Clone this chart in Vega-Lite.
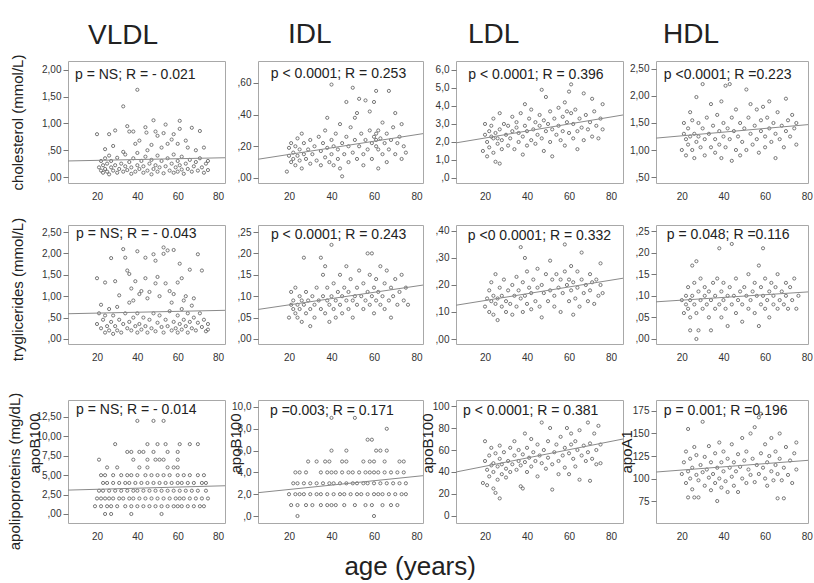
{
  "$schema": "https://vega.github.io/schema/vega-lite/v6.json",
  "background": "white",
  "padding": {"left": 7, "top": 20, "right": 0, "bottom": 2},
  "title": {"text": "age (years)", "orient": "bottom", "anchor": "middle", "fontSize": 26, "offset": 3},
  "columns": 4,
  "spacing": {"row": 14, "column": 33},
  "bounds": "flush",
  "align": "each",
  "datasets": {
    "A": [{"a":20,"v":0.8},{"a":26,"v":0.8},{"a":29,"v":0.87},{"a":33,"v":1.32},{"a":35,"v":0.95},{"a":36,"v":0.85},{"a":38,"v":0.85},{"a":40,"v":1.63},{"a":44,"v":0.93},{"a":44.5,"v":0.83},{"a":48,"v":1.06},{"a":49,"v":0.85},{"a":50,"v":0.77},{"a":53,"v":0.82},{"a":54,"v":0.98},{"a":58,"v":0.8},{"a":61,"v":1.05},{"a":61,"v":0.9},{"a":64,"v":0.68},{"a":57,"v":0.7},{"a":67,"v":0.92},{"a":71,"v":0.86},{"a":41,"v":0.68},{"a":47,"v":0.6},{"a":52,"v":0.55},{"a":60,"v":0.62},{"a":39,"v":0.62},{"a":28,"v":0.58},{"a":24,"v":0.52},{"a":33,"v":0.47},{"a":45,"v":0.5},{"a":55,"v":0.62},{"a":69,"v":0.5},{"a":73,"v":0.55},{"a":65,"v":0.55},
      {"a":21,"v":0.18},{"a":22,"v":0.3},{"a":22,"v":0.12},{"a":23,"v":0.22},{"a":23,"v":0.08},{"a":24,"v":0.35},{"a":24,"v":0.15},{"a":25,"v":0.1},{"a":25,"v":0.25},{"a":26,"v":0.4},{"a":26,"v":0.05},{"a":27,"v":0.18},{"a":27,"v":0.3},{"a":28,"v":0.12},{"a":29,"v":0.22},{"a":30,"v":0.08},{"a":30,"v":0.36},{"a":31,"v":0.15},{"a":32,"v":0.25},{"a":33,"v":0.1},{"a":34,"v":0.2},{"a":34,"v":0.42},{"a":35,"v":0.13},{"a":36,"v":0.28},{"a":37,"v":0.06},{"a":37,"v":0.18},{"a":38,"v":0.35},{"a":39,"v":0.1},{"a":40,"v":0.22},{"a":40,"v":0.45},{"a":41,"v":0.15},{"a":42,"v":0.3},{"a":43,"v":0.08},{"a":43,"v":0.2},{"a":44,"v":0.38},{"a":45,"v":0.12},{"a":46,"v":0.25},{"a":47,"v":0.05},{"a":47,"v":0.32},{"a":48,"v":0.15},{"a":49,"v":0.22},{"a":50,"v":0.4},{"a":50,"v":0.1},{"a":51,"v":0.18},{"a":52,"v":0.3},{"a":53,"v":0.07},{"a":54,"v":0.2},{"a":55,"v":0.35},{"a":56,"v":0.12},{"a":57,"v":0.25},{"a":58,"v":0.08},{"a":58,"v":0.42},{"a":59,"v":0.18},{"a":60,"v":0.3},{"a":60,"v":0.1},{"a":61,"v":0.22},{"a":62,"v":0.14},{"a":62,"v":0.38},{"a":63,"v":0.06},{"a":64,"v":0.25},{"a":65,"v":0.15},{"a":66,"v":0.32},{"a":67,"v":0.1},{"a":68,"v":0.2},{"a":69,"v":0.28},{"a":70,"v":0.12},{"a":71,"v":0.35},{"a":72,"v":0.18},{"a":73,"v":0.08},{"a":74,"v":0.25},{"a":75,"v":0.13},{"a":75,"v":0.3}],
    "B": [{"a":19,"v":0.04},{"a":20,"v":0.14},{"a":20,"v":0.19},{"a":21,"v":0.1},{"a":21,"v":0.22},{"a":22,"v":0.12},{"a":22,"v":0.16},{"a":23,"v":0.2},{"a":23,"v":0.08},{"a":24,"v":0.14},{"a":24,"v":0.25},{"a":25,"v":0.11},{"a":25,"v":0.18},{"a":26,"v":0.28},{"a":26,"v":0.06},{"a":27,"v":0.15},{"a":27,"v":0.22},{"a":28,"v":0.12},{"a":29,"v":0.18},{"a":30,"v":0.09},{"a":30,"v":0.24},{"a":31,"v":0.15},{"a":32,"v":0.2},{"a":33,"v":0.11},{"a":34,"v":0.26},{"a":35,"v":0.17},{"a":35,"v":0.08},{"a":36,"v":0.22},{"a":37,"v":0.3},{"a":37,"v":0.13},{"a":38,"v":0.19},{"a":38,"v":0.38},{"a":39,"v":0.1},{"a":40,"v":0.59},{"a":40,"v":0.24},{"a":40,"v":0.15},{"a":41,"v":0.08},{"a":41,"v":0.2},{"a":42,"v":0.28},{"a":43,"v":0.12},{"a":43,"v":0.18},{"a":44,"v":0.34},{"a":44,"v":0.06},{"a":45,"v":0.22},{"a":45,"v":0.01},{"a":46,"v":0.15},{"a":47,"v":0.26},{"a":47,"v":0.48},{"a":48,"v":0.1},{"a":48,"v":0.2},{"a":49,"v":0.32},{"a":50,"v":0.57},{"a":50,"v":0.16},{"a":51,"v":0.24},{"a":51,"v":0.38},{"a":52,"v":0.12},{"a":52,"v":0.41},{"a":53,"v":0.5},{"a":53,"v":0.2},{"a":54,"v":0.28},{"a":55,"v":0.15},{"a":55,"v":0.08},{"a":56,"v":0.24},{"a":56,"v":0.49},{"a":57,"v":0.18},{"a":58,"v":0.3},{"a":58,"v":0.42},{"a":59,"v":0.12},{"a":59,"v":0.22},{"a":60,"v":0.26},{"a":60,"v":0.48},{"a":61,"v":0.24},{"a":61,"v":0.2},{"a":61,"v":0.28},{"a":61,"v":0.55},{"a":62,"v":0.18},{"a":62,"v":0.3},{"a":62,"v":0.06},{"a":63,"v":0.25},{"a":64,"v":0.15},{"a":64,"v":0.35},{"a":65,"v":0.22},{"a":66,"v":0.1},{"a":66,"v":0.28},{"a":67,"v":0.55},{"a":67,"v":0.18},{"a":68,"v":0.24},{"a":69,"v":0.32},{"a":70,"v":0.41},{"a":70,"v":0.15},{"a":71,"v":0.22},{"a":72,"v":0.26},{"a":73,"v":0.34},{"a":73,"v":0.12},{"a":74,"v":0.2},{"a":75,"v":0.16}],
    "C": [{"a":19,"v":1.5},{"a":20,"v":2.4},{"a":20,"v":3.0},{"a":21,"v":1.2},{"a":21,"v":2.0},{"a":22,"v":2.6},{"a":22,"v":1.7},{"a":23,"v":2.3},{"a":23,"v":2.9},{"a":24,"v":1.4},{"a":24,"v":2.2},{"a":24,"v":3.3},{"a":25,"v":0.9},{"a":25,"v":2.5},{"a":26,"v":1.9},{"a":26,"v":2.2},{"a":27,"v":0.8},{"a":27,"v":2.7},{"a":27,"v":3.6},{"a":28,"v":2.1},{"a":28,"v":1.6},{"a":29,"v":3.0},{"a":30,"v":2.4},{"a":31,"v":1.8},{"a":31,"v":2.9},{"a":32,"v":2.2},{"a":33,"v":3.4},{"a":33,"v":2.6},{"a":34,"v":1.6},{"a":35,"v":2.8},{"a":35,"v":3.1},{"a":36,"v":2.0},{"a":36,"v":2.5},{"a":37,"v":3.6},{"a":38,"v":1.3},{"a":38,"v":2.3},{"a":39,"v":4.1},{"a":39,"v":2.9},{"a":40,"v":1.8},{"a":40,"v":2.6},{"a":41,"v":3.3},{"a":42,"v":2.1},{"a":42,"v":3.8},{"a":43,"v":2.7},{"a":44,"v":1.9},{"a":44,"v":3.1},{"a":45,"v":2.4},{"a":46,"v":3.5},{"a":46,"v":2.9},{"a":47,"v":4.9},{"a":47,"v":2.2},{"a":48,"v":3.2},{"a":48,"v":1.5},{"a":49,"v":4.5},{"a":49,"v":2.6},{"a":50,"v":3.0},{"a":51,"v":2.0},{"a":51,"v":3.7},{"a":52,"v":2.7},{"a":52,"v":1.2},{"a":53,"v":3.3},{"a":54,"v":2.4},{"a":55,"v":3.9},{"a":55,"v":2.9},{"a":56,"v":2.1},{"a":57,"v":3.4},{"a":57,"v":2.6},{"a":58,"v":4.2},{"a":58,"v":1.8},{"a":59,"v":3.1},{"a":59,"v":3.7},{"a":60,"v":4.8},{"a":60,"v":2.5},{"a":61,"v":5.2},{"a":61,"v":3.6},{"a":62,"v":3.0},{"a":62,"v":2.2},{"a":63,"v":3.8},{"a":64,"v":2.6},{"a":64,"v":1.6},{"a":65,"v":3.3},{"a":66,"v":2.8},{"a":67,"v":4.7},{"a":67,"v":2.1},{"a":68,"v":3.5},{"a":69,"v":2.7},{"a":70,"v":3.1},{"a":71,"v":4.4},{"a":71,"v":2.3},{"a":72,"v":3.7},{"a":73,"v":2.9},{"a":74,"v":2.2},{"a":75,"v":3.3},{"a":76,"v":4.1},{"a":76,"v":2.7}],
    "D": [{"a":20,"v":1.0},{"a":21,"v":1.3},{"a":21,"v":1.5},{"a":22,"v":1.2},{"a":22,"v":0.9},{"a":23,"v":1.4},{"a":23,"v":1.1},{"a":24,"v":1.7},{"a":24,"v":1.25},{"a":25,"v":1.0},{"a":25,"v":1.55},{"a":26,"v":1.3},{"a":26,"v":0.85},{"a":27,"v":1.98},{"a":27,"v":1.15},{"a":28,"v":1.5},{"a":28,"v":1.25},{"a":29,"v":1.05},{"a":30,"v":2.22},{"a":30,"v":1.4},{"a":31,"v":1.2},{"a":31,"v":0.9},{"a":32,"v":1.6},{"a":33,"v":1.3},{"a":34,"v":1.05},{"a":34,"v":1.85},{"a":35,"v":1.45},{"a":36,"v":1.2},{"a":36,"v":0.95},{"a":37,"v":1.65},{"a":38,"v":1.35},{"a":38,"v":1.1},{"a":39,"v":1.9},{"a":39,"v":0.85},{"a":40,"v":1.5},{"a":40,"v":1.25},{"a":41,"v":2.19},{"a":41,"v":1.05},{"a":42,"v":1.4},{"a":43,"v":2.22},{"a":43,"v":1.2},{"a":44,"v":0.8},{"a":44,"v":1.6},{"a":45,"v":1.35},{"a":46,"v":1.0},{"a":46,"v":1.75},{"a":47,"v":1.25},{"a":48,"v":1.5},{"a":48,"v":0.9},{"a":49,"v":1.15},{"a":50,"v":1.4},{"a":51,"v":2.12},{"a":51,"v":1.0},{"a":52,"v":1.6},{"a":53,"v":1.3},{"a":53,"v":1.85},{"a":54,"v":1.1},{"a":55,"v":1.45},{"a":56,"v":1.75},{"a":56,"v":1.2},{"a":57,"v":0.95},{"a":58,"v":1.55},{"a":58,"v":1.35},{"a":59,"v":1.8},{"a":60,"v":1.25},{"a":60,"v":1.05},{"a":61,"v":1.6},{"a":62,"v":1.4},{"a":62,"v":1.9},{"a":63,"v":1.15},{"a":64,"v":1.5},{"a":65,"v":1.3},{"a":65,"v":0.85},{"a":66,"v":1.7},{"a":67,"v":1.2},{"a":68,"v":1.45},{"a":69,"v":1.05},{"a":70,"v":1.95},{"a":70,"v":1.35},{"a":71,"v":1.55},{"a":72,"v":1.25},{"a":73,"v":1.65},{"a":74,"v":1.4},{"a":75,"v":1.1},{"a":75,"v":1.5}],
    "E": [{"a":20,"v":1.42},{"a":24,"v":1.32},{"a":27,"v":1.89},{"a":29,"v":1.35},{"a":33,"v":2.1},{"a":34,"v":1.9},{"a":35,"v":1.6},{"a":36,"v":1.52},{"a":37,"v":1.18},{"a":39,"v":1.35},{"a":40,"v":2.05},{"a":41,"v":1.05},{"a":42,"v":1.12},{"a":44,"v":1.9},{"a":44,"v":1.42},{"a":46,"v":1.1},{"a":48,"v":1.98},{"a":49,"v":1.83},{"a":49,"v":1.3},{"a":50,"v":1.45},{"a":51,"v":1.0},{"a":53,"v":2.14},{"a":53,"v":1.99},{"a":55,"v":2.07},{"a":54,"v":1.3},{"a":56,"v":1.12},{"a":58,"v":2.08},{"a":58,"v":1.05},{"a":60,"v":1.32},{"a":61,"v":1.76},{"a":62,"v":1.42},{"a":64,"v":1.0},{"a":66,"v":1.62},{"a":70,"v":1.98},{"a":72,"v":1.6},{"a":45,"v":0.95},{"a":38,"v":0.9},{"a":31,"v":1.02},{"a":63,"v":0.9},{"a":68,"v":0.95},{"a":57,"v":0.85},
      {"a":20,"v":0.35},{"a":21,"v":0.6},{"a":22,"v":0.25},{"a":22,"v":0.8},{"a":23,"v":0.45},{"a":24,"v":0.15},{"a":24,"v":0.55},{"a":25,"v":0.3},{"a":26,"v":0.7},{"a":26,"v":0.2},{"a":27,"v":0.4},{"a":28,"v":0.12},{"a":28,"v":0.55},{"a":29,"v":0.3},{"a":30,"v":0.2},{"a":30,"v":0.75},{"a":31,"v":0.45},{"a":32,"v":0.15},{"a":33,"v":0.35},{"a":34,"v":0.6},{"a":35,"v":0.25},{"a":36,"v":0.4},{"a":36,"v":0.85},{"a":37,"v":0.2},{"a":38,"v":0.5},{"a":39,"v":0.3},{"a":40,"v":0.15},{"a":40,"v":0.6},{"a":41,"v":0.35},{"a":42,"v":0.22},{"a":43,"v":0.5},{"a":44,"v":0.3},{"a":45,"v":0.15},{"a":46,"v":0.45},{"a":47,"v":0.25},{"a":48,"v":0.6},{"a":49,"v":0.18},{"a":50,"v":0.38},{"a":51,"v":0.55},{"a":52,"v":0.28},{"a":53,"v":0.15},{"a":54,"v":0.45},{"a":55,"v":0.3},{"a":56,"v":0.65},{"a":57,"v":0.2},{"a":58,"v":0.4},{"a":59,"v":0.25},{"a":60,"v":0.55},{"a":60,"v":0.15},{"a":61,"v":0.35},{"a":62,"v":0.7},{"a":62,"v":0.22},{"a":63,"v":0.45},{"a":64,"v":0.3},{"a":65,"v":0.6},{"a":65,"v":0.15},{"a":66,"v":0.4},{"a":67,"v":0.78},{"a":67,"v":0.25},{"a":68,"v":0.5},{"a":69,"v":0.2},{"a":70,"v":0.38},{"a":71,"v":0.6},{"a":72,"v":0.28},{"a":73,"v":0.45},{"a":74,"v":0.18},{"a":75,"v":0.35},{"a":75,"v":0.22}],
    "F": [{"a":20,"v":0.05},{"a":21,"v":0.08},{"a":21,"v":0.11},{"a":22,"v":0.07},{"a":22,"v":0.09},{"a":23,"v":0.06},{"a":23,"v":0.12},{"a":24,"v":0.08},{"a":24,"v":0.05},{"a":25,"v":0.1},{"a":25,"v":0.07},{"a":26,"v":0.09},{"a":26,"v":0.04},{"a":27,"v":0.19},{"a":27,"v":0.08},{"a":28,"v":0.06},{"a":28,"v":0.11},{"a":29,"v":0.09},{"a":30,"v":0.03},{"a":30,"v":0.07},{"a":31,"v":0.1},{"a":32,"v":0.08},{"a":32,"v":0.05},{"a":33,"v":0.12},{"a":34,"v":0.09},{"a":35,"v":0.07},{"a":35,"v":0.19},{"a":36,"v":0.15},{"a":36,"v":0.1},{"a":37,"v":0.06},{"a":37,"v":0.17},{"a":38,"v":0.09},{"a":38,"v":0.12},{"a":39,"v":0.04},{"a":39,"v":0.08},{"a":40,"v":0.22},{"a":40,"v":0.1},{"a":41,"v":0.07},{"a":41,"v":0.13},{"a":42,"v":0.09},{"a":42,"v":0.05},{"a":43,"v":0.11},{"a":44,"v":0.08},{"a":44,"v":0.15},{"a":45,"v":0.1},{"a":45,"v":0.06},{"a":46,"v":0.12},{"a":47,"v":0.09},{"a":47,"v":0.17},{"a":48,"v":0.07},{"a":48,"v":0.11},{"a":49,"v":0.14},{"a":50,"v":0.09},{"a":50,"v":0.05},{"a":51,"v":0.1},{"a":52,"v":0.12},{"a":52,"v":0.08},{"a":53,"v":0.16},{"a":54,"v":0.1},{"a":55,"v":0.07},{"a":55,"v":0.13},{"a":56,"v":0.09},{"a":57,"v":0.2},{"a":57,"v":0.11},{"a":58,"v":0.08},{"a":58,"v":0.15},{"a":59,"v":0.2},{"a":59,"v":0.1},{"a":60,"v":0.12},{"a":60,"v":0.06},{"a":61,"v":0.09},{"a":61,"v":0.14},{"a":62,"v":0.11},{"a":63,"v":0.08},{"a":63,"v":0.17},{"a":64,"v":0.1},{"a":65,"v":0.13},{"a":65,"v":0.07},{"a":66,"v":0.16},{"a":67,"v":0.09},{"a":68,"v":0.12},{"a":68,"v":0.05},{"a":69,"v":0.1},{"a":70,"v":0.14},{"a":71,"v":0.08},{"a":72,"v":0.11},{"a":73,"v":0.15},{"a":74,"v":0.09},{"a":75,"v":0.12},{"a":76,"v":0.08}],
    "G": [{"a":20,"v":0.12},{"a":21,"v":0.15},{"a":22,"v":0.1},{"a":22,"v":0.18},{"a":23,"v":0.14},{"a":23,"v":0.21},{"a":24,"v":0.09},{"a":24,"v":0.16},{"a":25,"v":0.13},{"a":25,"v":0.24},{"a":26,"v":0.07},{"a":26,"v":0.15},{"a":27,"v":0.19},{"a":28,"v":0.12},{"a":28,"v":0.16},{"a":29,"v":0.22},{"a":30,"v":0.1},{"a":30,"v":0.14},{"a":31,"v":0.18},{"a":32,"v":0.13},{"a":33,"v":0.2},{"a":33,"v":0.09},{"a":34,"v":0.16},{"a":35,"v":0.23},{"a":35,"v":0.12},{"a":36,"v":0.18},{"a":37,"v":0.15},{"a":37,"v":0.34},{"a":38,"v":0.1},{"a":38,"v":0.21},{"a":39,"v":0.3},{"a":39,"v":0.16},{"a":40,"v":0.13},{"a":40,"v":0.25},{"a":41,"v":0.19},{"a":42,"v":0.11},{"a":42,"v":0.17},{"a":43,"v":0.22},{"a":44,"v":0.14},{"a":45,"v":0.26},{"a":45,"v":0.19},{"a":46,"v":0.12},{"a":47,"v":0.08},{"a":47,"v":0.2},{"a":48,"v":0.17},{"a":49,"v":0.24},{"a":50,"v":0.14},{"a":51,"v":0.29},{"a":51,"v":0.18},{"a":52,"v":0.22},{"a":53,"v":0.12},{"a":53,"v":0.16},{"a":54,"v":0.24},{"a":55,"v":0.19},{"a":56,"v":0.1},{"a":56,"v":0.22},{"a":57,"v":0.17},{"a":58,"v":0.35},{"a":58,"v":0.25},{"a":59,"v":0.2},{"a":60,"v":0.14},{"a":60,"v":0.22},{"a":61,"v":0.27},{"a":61,"v":0.18},{"a":62,"v":0.09},{"a":62,"v":0.21},{"a":63,"v":0.15},{"a":64,"v":0.25},{"a":64,"v":0.19},{"a":65,"v":0.12},{"a":66,"v":0.22},{"a":66,"v":0.32},{"a":67,"v":0.17},{"a":68,"v":0.2},{"a":69,"v":0.14},{"a":70,"v":0.24},{"a":70,"v":0.18},{"a":71,"v":0.21},{"a":72,"v":0.13},{"a":73,"v":0.22},{"a":74,"v":0.16},{"a":75,"v":0.28},{"a":75,"v":0.2},{"a":76,"v":0.17}],
    "H": [{"a":20,"v":0.09},{"a":21,"v":0.06},{"a":22,"v":0.1},{"a":22,"v":0.08},{"a":23,"v":0.07},{"a":23,"v":0.12},{"a":24,"v":0.09},{"a":24,"v":0.05},{"a":24,"v":0.02},{"a":25,"v":0.17},{"a":25,"v":0.1},{"a":26,"v":0.08},{"a":26,"v":0.13},{"a":27,"v":0.18},{"a":27,"v":0.06},{"a":27,"v":0.0},{"a":28,"v":0.11},{"a":28,"v":0.02},{"a":29,"v":0.09},{"a":29,"v":0.14},{"a":30,"v":0.07},{"a":31,"v":0.1},{"a":31,"v":0.12},{"a":32,"v":0.08},{"a":33,"v":0.05},{"a":33,"v":0.11},{"a":34,"v":0.02},{"a":34,"v":0.09},{"a":35,"v":0.13},{"a":36,"v":0.07},{"a":36,"v":0.1},{"a":37,"v":0.14},{"a":38,"v":0.21},{"a":38,"v":0.08},{"a":39,"v":0.11},{"a":39,"v":0.05},{"a":40,"v":0.09},{"a":40,"v":0.13},{"a":41,"v":0.07},{"a":42,"v":0.03},{"a":42,"v":0.1},{"a":43,"v":0.12},{"a":44,"v":0.22},{"a":44,"v":0.08},{"a":45,"v":0.1},{"a":46,"v":0.06},{"a":46,"v":0.14},{"a":47,"v":0.09},{"a":48,"v":0.11},{"a":49,"v":0.04},{"a":49,"v":0.08},{"a":50,"v":0.12},{"a":51,"v":0.1},{"a":52,"v":0.07},{"a":52,"v":0.15},{"a":53,"v":0.09},{"a":54,"v":0.11},{"a":55,"v":0.06},{"a":55,"v":0.13},{"a":56,"v":0.1},{"a":57,"v":0.03},{"a":57,"v":0.17},{"a":58,"v":0.08},{"a":58,"v":0.12},{"a":59,"v":0.21},{"a":59,"v":0.1},{"a":60,"v":0.07},{"a":60,"v":0.14},{"a":61,"v":0.09},{"a":62,"v":0.11},{"a":62,"v":0.05},{"a":63,"v":0.13},{"a":64,"v":0.08},{"a":64,"v":0.1},{"a":65,"v":0.12},{"a":66,"v":0.07},{"a":66,"v":0.15},{"a":67,"v":0.09},{"a":68,"v":0.11},{"a":69,"v":0.08},{"a":70,"v":0.13},{"a":70,"v":0.1},{"a":71,"v":0.07},{"a":72,"v":0.12},{"a":73,"v":0.09},{"a":74,"v":0.14},{"a":75,"v":0.07},{"a":76,"v":0.1}],
    "I": [{"a":40,"v":12},{"a":48,"v":12},{"a":53,"v":12},
      {"a":29,"v":9},{"a":45,"v":9},{"a":50,"v":9},{"a":54,"v":9},{"a":61,"v":9},{"a":66,"v":9},{"a":70,"v":9},
      {"a":35,"v":8},{"a":37,"v":8},{"a":41,"v":8},{"a":43,"v":8},{"a":48,"v":8},{"a":55,"v":8},{"a":60,"v":8},
      {"a":21,"v":7},{"a":38,"v":7},{"a":45,"v":7},{"a":49,"v":7},{"a":51,"v":7},{"a":53,"v":7},{"a":60,"v":7},
      {"a":25,"v":6},{"a":30,"v":6},{"a":41,"v":6},{"a":45,"v":6},{"a":55,"v":6},{"a":58,"v":6},{"a":60,"v":6},
      {"a":22,"v":5},{"a":24,"v":5},{"a":28,"v":5},{"a":32,"v":5},{"a":35,"v":5},{"a":37,"v":5},{"a":40,"v":5},{"a":44,"v":5},{"a":47,"v":5},{"a":50,"v":5},{"a":53,"v":5},{"a":56,"v":5},{"a":60,"v":5},{"a":63,"v":5},{"a":66,"v":5},{"a":70,"v":5},{"a":73,"v":5},
      {"a":23,"v":4},{"a":25,"v":4},{"a":28,"v":4},{"a":31,"v":4},{"a":34,"v":4},{"a":36,"v":4},{"a":39,"v":4},{"a":42,"v":4},{"a":45,"v":4},{"a":48,"v":4},{"a":51,"v":4},{"a":54,"v":4},{"a":57,"v":4},{"a":60,"v":4},{"a":62,"v":4},{"a":65,"v":4},{"a":68,"v":4},{"a":72,"v":4},{"a":74,"v":4},
      {"a":21,"v":3},{"a":23,"v":3},{"a":26,"v":3},{"a":29,"v":3},{"a":32,"v":3},{"a":35,"v":3},{"a":38,"v":3},{"a":40,"v":3},{"a":43,"v":3},{"a":46,"v":3},{"a":49,"v":3},{"a":52,"v":3},{"a":55,"v":3},{"a":58,"v":3},{"a":61,"v":3},{"a":64,"v":3},{"a":67,"v":3},{"a":70,"v":3},{"a":74,"v":3},
      {"a":20,"v":2},{"a":22,"v":2},{"a":24,"v":2},{"a":26,"v":2},{"a":28,"v":2},{"a":31,"v":2},{"a":33,"v":2},{"a":36,"v":2},{"a":38,"v":2},{"a":41,"v":2},{"a":44,"v":2},{"a":47,"v":2},{"a":50,"v":2},{"a":53,"v":2},{"a":56,"v":2},{"a":59,"v":2},{"a":61,"v":2},{"a":63,"v":2},{"a":66,"v":2},{"a":69,"v":2},{"a":72,"v":2},{"a":75,"v":2},
      {"a":19,"v":1},{"a":22,"v":1},{"a":25,"v":1},{"a":27,"v":1},{"a":30,"v":1},{"a":34,"v":1},{"a":37,"v":1},{"a":40,"v":1},{"a":43,"v":1},{"a":46,"v":1},{"a":49,"v":1},{"a":52,"v":1},{"a":55,"v":1},{"a":58,"v":1},{"a":60,"v":1},{"a":62,"v":1},{"a":65,"v":1},{"a":68,"v":1},{"a":71,"v":1},{"a":73,"v":1},
      {"a":24,"v":0},{"a":27,"v":0},{"a":37,"v":0},{"a":52,"v":0}],
    "J": [{"a":40,"v":9},{"a":51,"v":9},{"a":66,"v":8},{"a":57,"v":7},{"a":59,"v":7},
      {"a":40,"v":6},{"a":47,"v":6},{"a":61,"v":6},{"a":63,"v":6},{"a":66,"v":6},
      {"a":29,"v":5},{"a":33,"v":5},{"a":37,"v":5},{"a":39,"v":5},{"a":45,"v":5},{"a":47,"v":5},{"a":55,"v":5},{"a":58,"v":5},{"a":60,"v":5},{"a":65,"v":5},{"a":72,"v":5},{"a":74,"v":5},
      {"a":23,"v":4},{"a":25,"v":4},{"a":28,"v":4},{"a":35,"v":4},{"a":38,"v":4},{"a":40,"v":4},{"a":42,"v":4},{"a":45,"v":4},{"a":48,"v":4},{"a":50,"v":4},{"a":53,"v":4},{"a":56,"v":4},{"a":58,"v":4},{"a":60,"v":4},{"a":62,"v":4},{"a":65,"v":4},{"a":68,"v":4},{"a":71,"v":4},{"a":74,"v":4},
      {"a":22,"v":3},{"a":24,"v":3},{"a":27,"v":3},{"a":30,"v":3},{"a":33,"v":3},{"a":36,"v":3},{"a":39,"v":3},{"a":41,"v":3},{"a":44,"v":3},{"a":47,"v":3},{"a":50,"v":3},{"a":52,"v":3},{"a":55,"v":3},{"a":57,"v":3},{"a":60,"v":3},{"a":63,"v":3},{"a":66,"v":3},{"a":69,"v":3},{"a":72,"v":3},{"a":75,"v":3},
      {"a":20,"v":2},{"a":23,"v":2},{"a":25,"v":2},{"a":27,"v":2},{"a":30,"v":2},{"a":33,"v":2},{"a":35,"v":2},{"a":38,"v":2},{"a":41,"v":2},{"a":44,"v":2},{"a":46,"v":2},{"a":49,"v":2},{"a":52,"v":2},{"a":54,"v":2},{"a":57,"v":2},{"a":60,"v":2},{"a":62,"v":2},{"a":64,"v":2},{"a":67,"v":2},{"a":70,"v":2},{"a":73,"v":2},{"a":75,"v":2},
      {"a":21,"v":1},{"a":24,"v":1},{"a":28,"v":1},{"a":31,"v":1},{"a":35,"v":1},{"a":38,"v":1},{"a":40,"v":1},{"a":42,"v":1},{"a":46,"v":1},{"a":51,"v":1},{"a":56,"v":1},{"a":59,"v":1},{"a":64,"v":1},{"a":68,"v":1},{"a":71,"v":1},
      {"a":24,"v":0},{"a":60,"v":0}],
    "K": [{"a":19,"v":30},{"a":20,"v":50},{"a":20,"v":68},{"a":21,"v":28},{"a":21,"v":42},{"a":22,"v":55},{"a":22,"v":36},{"a":23,"v":46},{"a":23,"v":62},{"a":24,"v":25},{"a":24,"v":48},{"a":24,"v":40},{"a":25,"v":21},{"a":25,"v":57},{"a":26,"v":33},{"a":26,"v":45},{"a":27,"v":16},{"a":27,"v":52},{"a":27,"v":64},{"a":28,"v":38},{"a":28,"v":47},{"a":29,"v":58},{"a":30,"v":43},{"a":30,"v":35},{"a":31,"v":50},{"a":32,"v":62},{"a":32,"v":40},{"a":33,"v":47},{"a":34,"v":55},{"a":34,"v":68},{"a":35,"v":42},{"a":36,"v":50},{"a":36,"v":60},{"a":37,"v":27},{"a":37,"v":46},{"a":38,"v":25},{"a":38,"v":56},{"a":39,"v":75},{"a":39,"v":49},{"a":40,"v":62},{"a":40,"v":40},{"a":41,"v":53},{"a":42,"v":70},{"a":42,"v":45},{"a":43,"v":58},{"a":44,"v":50},{"a":45,"v":65},{"a":45,"v":36},{"a":46,"v":55},{"a":47,"v":85},{"a":47,"v":48},{"a":48,"v":60},{"a":49,"v":43},{"a":50,"v":68},{"a":50,"v":53},{"a":51,"v":80},{"a":52,"v":47},{"a":52,"v":24},{"a":53,"v":58},{"a":54,"v":65},{"a":55,"v":50},{"a":55,"v":38},{"a":56,"v":72},{"a":57,"v":55},{"a":58,"v":62},{"a":58,"v":44},{"a":59,"v":80},{"a":60,"v":57},{"a":60,"v":38},{"a":61,"v":75},{"a":61,"v":65},{"a":62,"v":52},{"a":63,"v":68},{"a":63,"v":45},{"a":64,"v":60},{"a":65,"v":78},{"a":65,"v":33},{"a":66,"v":55},{"a":67,"v":64},{"a":68,"v":50},{"a":69,"v":85},{"a":69,"v":58},{"a":70,"v":32},{"a":70,"v":66},{"a":71,"v":52},{"a":72,"v":75},{"a":73,"v":60},{"a":73,"v":47},{"a":74,"v":82},{"a":75,"v":65},{"a":75,"v":48}],
    "L": [{"a":20,"v":105},{"a":21,"v":118},{"a":22,"v":95},{"a":22,"v":130},{"a":23,"v":155},{"a":23,"v":108},{"a":23,"v":79},{"a":24,"v":100},{"a":24,"v":122},{"a":25,"v":112},{"a":25,"v":88},{"a":26,"v":135},{"a":26,"v":79},{"a":27,"v":104},{"a":27,"v":126},{"a":28,"v":79},{"a":28,"v":98},{"a":29,"v":115},{"a":30,"v":163},{"a":30,"v":107},{"a":31,"v":92},{"a":31,"v":124},{"a":32,"v":110},{"a":33,"v":101},{"a":33,"v":136},{"a":34,"v":87},{"a":34,"v":118},{"a":35,"v":105},{"a":36,"v":128},{"a":36,"v":95},{"a":37,"v":75},{"a":37,"v":112},{"a":38,"v":140},{"a":38,"v":100},{"a":39,"v":118},{"a":39,"v":90},{"a":40,"v":108},{"a":40,"v":130},{"a":41,"v":97},{"a":42,"v":122},{"a":42,"v":85},{"a":43,"v":112},{"a":44,"v":102},{"a":44,"v":138},{"a":45,"v":92},{"a":45,"v":118},{"a":46,"v":108},{"a":47,"v":127},{"a":47,"v":85},{"a":48,"v":113},{"a":49,"v":100},{"a":49,"v":145},{"a":50,"v":120},{"a":51,"v":95},{"a":51,"v":130},{"a":52,"v":110},{"a":53,"v":150},{"a":53,"v":104},{"a":54,"v":122},{"a":55,"v":157},{"a":55,"v":96},{"a":56,"v":115},{"a":57,"v":168},{"a":57,"v":105},{"a":58,"v":172},{"a":58,"v":128},{"a":59,"v":112},{"a":60,"v":100},{"a":60,"v":138},{"a":61,"v":118},{"a":61,"v":92},{"a":62,"v":125},{"a":63,"v":108},{"a":63,"v":145},{"a":64,"v":98},{"a":65,"v":130},{"a":65,"v":115},{"a":66,"v":78},{"a":66,"v":105},{"a":67,"v":150},{"a":67,"v":122},{"a":68,"v":98},{"a":69,"v":78},{"a":69,"v":112},{"a":70,"v":135},{"a":71,"v":104},{"a":72,"v":120},{"a":73,"v":95},{"a":74,"v":128},{"a":75,"v":110},{"a":75,"v":140}]
  },
  "concat": [
    {"width": 157, "height": 122,
     "title": {"text": "VLDL", "anchor": "start", "frame": "group", "dx": 20, "fontSize": 28, "offset": 4},
     "layer": [
      {"data": {"name": "A"}, "mark": "point",
       "encoding": {
        "x": {"field": "a", "type": "quantitative", "title": null, "scale": {"domain": [5.62, 83.45], "nice": false}, "axis": {"values": [20, 40, 60, 80]}},
        "y": {"field": "v", "type": "quantitative", "scale": {"domain": [-0.112, 2.168], "nice": false},
              "axis": {"values": [0, 0.5, 1, 1.5, 2], "labelExpr": "datum.value < 1 ? replace(format(datum.value, '.2f'), '0.', ',') : replace(format(datum.value, '.2f'), '.', ',')",
                       "title": "cholesterol (mmol/L)", "titleX": -43, "titleY": 61, "titleAlign": "center", "titleBaseline": "bottom", "titleAngle": -90}}}},
      {"data": {"values": [{"a": 5.62, "v": 0.30}, {"a": 83.45, "v": 0.36}]}, "mark": "line",
       "encoding": {
        "x": {"field": "a", "type": "quantitative", "title": null, "axis": {"values": [20, 40, 60, 80]}},
        "y": {"field": "v", "type": "quantitative",
              "axis": {"values": [0, 0.5, 1, 1.5, 2], "labelExpr": "datum.value < 1 ? replace(format(datum.value, '.2f'), '0.', ',') : replace(format(datum.value, '.2f'), '.', ',')",
                       "title": "cholesterol (mmol/L)", "titleX": -43, "titleY": 61, "titleAlign": "center", "titleBaseline": "bottom", "titleAngle": -90}}}},
      {"data": {"values": [{"t": "p = NS; R = - 0.021"}]}, "mark": "text",
       "encoding": {"text": {"field": "t"},
        "x": {"datum": 9.1, "type": "quantitative", "title": null, "axis": {"values": [20, 40, 60, 80]}},
        "y": {"datum": 1.83, "type": "quantitative",
              "axis": {"values": [0, 0.5, 1, 1.5, 2], "labelExpr": "datum.value < 1 ? replace(format(datum.value, '.2f'), '0.', ',') : replace(format(datum.value, '.2f'), '.', ',')",
                       "title": "cholesterol (mmol/L)", "titleX": -43, "titleY": 61, "titleAlign": "center", "titleBaseline": "bottom", "titleAngle": -90}}}}
     ]},
    {"width": 165, "height": 122,
     "title": {"text": "IDL", "anchor": "start", "frame": "group", "dx": 30, "fontSize": 28, "offset": 12},
     "layer": [
      {"data": {"name": "B"}, "mark": "point",
       "encoding": {
        "x": {"field": "a", "type": "quantitative", "title": null, "scale": {"domain": [5.41, 83.06], "nice": false}, "axis": {"values": [20, 40, 60, 80]}},
        "y": {"field": "v", "type": "quantitative", "title": null, "scale": {"domain": [-0.032, 0.739], "nice": false},
              "axis": {"values": [0, 0.2, 0.4, 0.6], "labelExpr": "datum.value < 1 ? replace(format(datum.value, '.2f'), '0.', ',') : replace(format(datum.value, '.2f'), '.', ',')"}}}},
      {"data": {"values": [{"a": 5.41, "v": 0.118}, {"a": 83.06, "v": 0.28}]}, "mark": "line",
       "encoding": {
        "x": {"field": "a", "type": "quantitative", "title": null, "axis": {"values": [20, 40, 60, 80]}},
        "y": {"field": "v", "type": "quantitative", "title": null,
              "axis": {"values": [0, 0.2, 0.4, 0.6], "labelExpr": "datum.value < 1 ? replace(format(datum.value, '.2f'), '0.', ',') : replace(format(datum.value, '.2f'), '.', ',')"}}}},
      {"data": {"values": [{"t": "p < 0.0001; R = 0.253"}]}, "mark": "text",
       "encoding": {"text": {"field": "t"},
        "x": {"datum": 11.4, "type": "quantitative", "title": null, "axis": {"values": [20, 40, 60, 80]}},
        "y": {"datum": 0.63, "type": "quantitative", "title": null,
              "axis": {"values": [0, 0.2, 0.4, 0.6], "labelExpr": "datum.value < 1 ? replace(format(datum.value, '.2f'), '0.', ',') : replace(format(datum.value, '.2f'), '.', ',')"}}}}
     ]},
    {"width": 167, "height": 122,
     "title": {"text": "LDL", "anchor": "start", "frame": "group", "dx": 12, "fontSize": 28, "offset": 12},
     "layer": [
      {"data": {"name": "C"}, "mark": "point",
       "encoding": {
        "x": {"field": "a", "type": "quantitative", "title": null, "scale": {"domain": [6.19, 85.7], "nice": false}, "axis": {"values": [20, 40, 60, 80]}},
        "y": {"field": "v", "type": "quantitative", "title": null, "scale": {"domain": [-0.28, 6.5], "nice": false},
              "axis": {"values": [0, 1, 2, 3, 4, 5, 6], "labelExpr": "datum.value < 1 ? replace(format(datum.value, '.1f'), '0.', ',') : replace(format(datum.value, '.1f'), '.', ',')"}}}},
      {"data": {"values": [{"a": 6.19, "v": 1.95}, {"a": 85.7, "v": 3.5}]}, "mark": "line",
       "encoding": {
        "x": {"field": "a", "type": "quantitative", "title": null, "axis": {"values": [20, 40, 60, 80]}},
        "y": {"field": "v", "type": "quantitative", "title": null,
              "axis": {"values": [0, 1, 2, 3, 4, 5, 6], "labelExpr": "datum.value < 1 ? replace(format(datum.value, '.1f'), '0.', ',') : replace(format(datum.value, '.1f'), '.', ',')"}}}},
      {"data": {"values": [{"t": "p < 0.0001; R = 0.396"}]}, "mark": "text",
       "encoding": {"text": {"field": "t"},
        "x": {"datum": 12.0, "type": "quantitative", "title": null, "axis": {"values": [20, 40, 60, 80]}},
        "y": {"datum": 5.48, "type": "quantitative", "title": null,
              "axis": {"values": [0, 1, 2, 3, 4, 5, 6], "labelExpr": "datum.value < 1 ? replace(format(datum.value, '.1f'), '0.', ',') : replace(format(datum.value, '.1f'), '.', ',')"}}}}
     ]},
    {"width": 152, "height": 122,
     "title": {"text": "HDL", "anchor": "start", "frame": "group", "dx": 7, "fontSize": 28, "offset": 12},
     "layer": [
      {"data": {"name": "D"}, "mark": "point",
       "encoding": {
        "x": {"field": "a", "type": "quantitative", "title": null, "scale": {"domain": [7.6, 80.6], "nice": false}, "axis": {"values": [20, 40, 60, 80]}},
        "y": {"field": "v", "type": "quantitative", "title": null, "scale": {"domain": [0.389, 2.648], "nice": false},
              "axis": {"values": [0.5, 1, 1.5, 2, 2.5], "labelExpr": "datum.value < 1 ? replace(format(datum.value, '.2f'), '0.', ',') : replace(format(datum.value, '.2f'), '.', ',')"}}}},
      {"data": {"values": [{"a": 7.6, "v": 1.22}, {"a": 80.6, "v": 1.47}]}, "mark": "line",
       "encoding": {
        "x": {"field": "a", "type": "quantitative", "title": null, "axis": {"values": [20, 40, 60, 80]}},
        "y": {"field": "v", "type": "quantitative", "title": null,
              "axis": {"values": [0.5, 1, 1.5, 2, 2.5], "labelExpr": "datum.value < 1 ? replace(format(datum.value, '.2f'), '0.', ',') : replace(format(datum.value, '.2f'), '.', ',')"}}}},
      {"data": {"values": [{"t": "p <0.0001; R =0.223"}]}, "mark": "text",
       "encoding": {"text": {"field": "t"},
        "x": {"datum": 11.35, "type": "quantitative", "title": null, "axis": {"values": [20, 40, 60, 80]}},
        "y": {"datum": 2.31, "type": "quantitative", "title": null,
              "axis": {"values": [0.5, 1, 1.5, 2, 2.5], "labelExpr": "datum.value < 1 ? replace(format(datum.value, '.2f'), '0.', ',') : replace(format(datum.value, '.2f'), '.', ',')"}}}}
     ]},
    {"width": 10, "height": 14, "view": {"stroke": null}, "data": {"values": []}, "mark": "point"},
    {"width": 10, "height": 14, "view": {"stroke": null}, "data": {"values": []}, "mark": "point"},
    {"width": 10, "height": 14, "view": {"stroke": null}, "data": {"values": []}, "mark": "point"},
    {"width": 10, "height": 14, "view": {"stroke": null}, "data": {"values": []}, "mark": "point"},
    {"width": 157, "height": 119,
     "layer": [
      {"data": {"name": "E"}, "mark": "point",
       "encoding": {
        "x": {"field": "a", "type": "quantitative", "title": null, "scale": {"domain": [5.62, 83.45], "nice": false}, "axis": {"values": [20, 40, 60, 80]}},
        "y": {"field": "v", "type": "quantitative", "scale": {"domain": [-0.117, 2.664], "nice": false},
              "axis": {"values": [0, 0.5, 1, 1.5, 2, 2.5], "labelExpr": "datum.value < 1 ? replace(format(datum.value, '.2f'), '0.', ',') : replace(format(datum.value, '.2f'), '.', ',')",
                       "title": "tryglicerides (mmol/L)", "titleX": -43, "titleY": 64, "titleAlign": "center", "titleBaseline": "bottom", "titleAngle": -90}}}},
      {"data": {"values": [{"a": 5.62, "v": 0.59}, {"a": 83.45, "v": 0.67}]}, "mark": "line",
       "encoding": {
        "x": {"field": "a", "type": "quantitative", "title": null, "axis": {"values": [20, 40, 60, 80]}},
        "y": {"field": "v", "type": "quantitative",
              "axis": {"values": [0, 0.5, 1, 1.5, 2, 2.5], "labelExpr": "datum.value < 1 ? replace(format(datum.value, '.2f'), '0.', ',') : replace(format(datum.value, '.2f'), '.', ',')",
                       "title": "tryglicerides (mmol/L)", "titleX": -43, "titleY": 64, "titleAlign": "center", "titleBaseline": "bottom", "titleAngle": -90}}}},
      {"data": {"values": [{"t": "p = NS; R = - 0.043"}]}, "mark": "text",
       "encoding": {"text": {"field": "t"},
        "x": {"datum": 9.6, "type": "quantitative", "title": null, "axis": {"values": [20, 40, 60, 80]}},
        "y": {"datum": 2.35, "type": "quantitative",
              "axis": {"values": [0, 0.5, 1, 1.5, 2, 2.5], "labelExpr": "datum.value < 1 ? replace(format(datum.value, '.2f'), '0.', ',') : replace(format(datum.value, '.2f'), '.', ',')",
                       "title": "tryglicerides (mmol/L)", "titleX": -43, "titleY": 64, "titleAlign": "center", "titleBaseline": "bottom", "titleAngle": -90}}}}
     ]},
    {"width": 165, "height": 119,
     "layer": [
      {"data": {"name": "F"}, "mark": "point",
       "encoding": {
        "x": {"field": "a", "type": "quantitative", "title": null, "scale": {"domain": [5.41, 83.06], "nice": false}, "axis": {"values": [20, 40, 60, 80]}},
        "y": {"field": "v", "type": "quantitative", "title": null, "scale": {"domain": [-0.0117, 0.2664], "nice": false},
              "axis": {"values": [0, 0.05, 0.1, 0.15, 0.2, 0.25], "labelExpr": "datum.value < 1 ? replace(format(datum.value, '.2f'), '0.', ',') : replace(format(datum.value, '.2f'), '.', ',')"}}}},
      {"data": {"values": [{"a": 5.41, "v": 0.069}, {"a": 83.06, "v": 0.126}]}, "mark": "line",
       "encoding": {
        "x": {"field": "a", "type": "quantitative", "title": null, "axis": {"values": [20, 40, 60, 80]}},
        "y": {"field": "v", "type": "quantitative", "title": null,
              "axis": {"values": [0, 0.05, 0.1, 0.15, 0.2, 0.25], "labelExpr": "datum.value < 1 ? replace(format(datum.value, '.2f'), '0.', ',') : replace(format(datum.value, '.2f'), '.', ',')"}}}},
      {"data": {"values": [{"t": "p < 0.0001; R = 0.243"}]}, "mark": "text",
       "encoding": {"text": {"field": "t"},
        "x": {"datum": 11.5, "type": "quantitative", "title": null, "axis": {"values": [20, 40, 60, 80]}},
        "y": {"datum": 0.233, "type": "quantitative", "title": null,
              "axis": {"values": [0, 0.05, 0.1, 0.15, 0.2, 0.25], "labelExpr": "datum.value < 1 ? replace(format(datum.value, '.2f'), '0.', ',') : replace(format(datum.value, '.2f'), '.', ',')"}}}}
     ]},
    {"width": 167, "height": 119,
     "layer": [
      {"data": {"name": "G"}, "mark": "point",
       "encoding": {
        "x": {"field": "a", "type": "quantitative", "title": null, "scale": {"domain": [6.19, 85.7], "nice": false}, "axis": {"values": [20, 40, 60, 80]}},
        "y": {"field": "v", "type": "quantitative", "title": null, "scale": {"domain": [-0.0185, 0.422], "nice": false},
              "axis": {"values": [0, 0.1, 0.2, 0.3, 0.4], "labelExpr": "datum.value < 1 ? replace(format(datum.value, '.2f'), '0.', ',') : replace(format(datum.value, '.2f'), '.', ',')"}}}},
      {"data": {"values": [{"a": 6.19, "v": 0.125}, {"a": 85.7, "v": 0.225}]}, "mark": "line",
       "encoding": {
        "x": {"field": "a", "type": "quantitative", "title": null, "axis": {"values": [20, 40, 60, 80]}},
        "y": {"field": "v", "type": "quantitative", "title": null,
              "axis": {"values": [0, 0.1, 0.2, 0.3, 0.4], "labelExpr": "datum.value < 1 ? replace(format(datum.value, '.2f'), '0.', ',') : replace(format(datum.value, '.2f'), '.', ',')"}}}},
      {"data": {"values": [{"t": "p <0 0.0001; R = 0.332"}]}, "mark": "text",
       "encoding": {"text": {"field": "t"},
        "x": {"datum": 11.8, "type": "quantitative", "title": null, "axis": {"values": [20, 40, 60, 80]}},
        "y": {"datum": 0.367, "type": "quantitative", "title": null,
              "axis": {"values": [0, 0.1, 0.2, 0.3, 0.4], "labelExpr": "datum.value < 1 ? replace(format(datum.value, '.2f'), '0.', ',') : replace(format(datum.value, '.2f'), '.', ',')"}}}}
     ]},
    {"width": 152, "height": 119,
     "layer": [
      {"data": {"name": "H"}, "mark": "point",
       "encoding": {
        "x": {"field": "a", "type": "quantitative", "title": null, "scale": {"domain": [7.6, 80.6], "nice": false}, "axis": {"values": [20, 40, 60, 80]}},
        "y": {"field": "v", "type": "quantitative", "title": null, "scale": {"domain": [-0.0116, 0.2639], "nice": false},
              "axis": {"values": [0, 0.05, 0.1, 0.15, 0.2, 0.25], "labelExpr": "datum.value < 1 ? replace(format(datum.value, '.2f'), '0.', ',') : replace(format(datum.value, '.2f'), '.', ',')"}}}},
      {"data": {"values": [{"a": 7.6, "v": 0.086}, {"a": 80.6, "v": 0.109}]}, "mark": "line",
       "encoding": {
        "x": {"field": "a", "type": "quantitative", "title": null, "axis": {"values": [20, 40, 60, 80]}},
        "y": {"field": "v", "type": "quantitative", "title": null,
              "axis": {"values": [0, 0.05, 0.1, 0.15, 0.2, 0.25], "labelExpr": "datum.value < 1 ? replace(format(datum.value, '.2f'), '0.', ',') : replace(format(datum.value, '.2f'), '.', ',')"}}}},
      {"data": {"values": [{"t": "p = 0.048; R =0.116"}]}, "mark": "text",
       "encoding": {"text": {"field": "t"},
        "x": {"datum": 12.8, "type": "quantitative", "title": null, "axis": {"values": [20, 40, 60, 80]}},
        "y": {"datum": 0.231, "type": "quantitative", "title": null,
              "axis": {"values": [0, 0.05, 0.1, 0.15, 0.2, 0.25], "labelExpr": "datum.value < 1 ? replace(format(datum.value, '.2f'), '0.', ',') : replace(format(datum.value, '.2f'), '.', ',')"}}}}
     ]},
    {"width": 10, "height": 28, "view": {"stroke": null}, "data": {"values": []}, "mark": "point"},
    {"width": 10, "height": 28, "view": {"stroke": null}, "data": {"values": []}, "mark": "point"},
    {"width": 10, "height": 28, "view": {"stroke": null}, "data": {"values": []}, "mark": "point"},
    {"width": 10, "height": 28, "view": {"stroke": null}, "data": {"values": []}, "mark": "point"},
    {"width": 157, "height": 123,
     "title": {"text": "apolipoproteins (mg/dL)", "orient": "left", "anchor": "middle", "frame": "group", "fontSize": 15, "offset": 4, "dx": -10},
     "layer": [
      {"data": {"name": "I"}, "mark": "point",
       "encoding": {
        "x": {"field": "a", "type": "quantitative", "title": null, "scale": {"domain": [5.62, 83.45], "nice": false}, "axis": {"values": [20, 40, 60, 80]}},
        "y": {"field": "v", "type": "quantitative", "scale": {"domain": [-1.16, 14.69], "nice": false},
              "axis": {"values": [0, 2.5, 5, 7.5, 10, 12.5], "labelExpr": "datum.value < 1 ? replace(format(datum.value, '.2f'), '0.', ',') : replace(format(datum.value, '.2f'), '.', ',')",
                       "title": "apoB100", "titleX": -26, "titleY": 73, "titleAlign": "left", "titleBaseline": "bottom", "titleAngle": -90}}}},
      {"data": {"values": [{"a": 5.62, "v": 3.08}, {"a": 83.45, "v": 3.64}]}, "mark": "line",
       "encoding": {
        "x": {"field": "a", "type": "quantitative", "title": null, "axis": {"values": [20, 40, 60, 80]}},
        "y": {"field": "v", "type": "quantitative",
              "axis": {"values": [0, 2.5, 5, 7.5, 10, 12.5], "labelExpr": "datum.value < 1 ? replace(format(datum.value, '.2f'), '0.', ',') : replace(format(datum.value, '.2f'), '.', ',')",
                       "title": "apoB100", "titleX": -26, "titleY": 73, "titleAlign": "left", "titleBaseline": "bottom", "titleAngle": -90}}}},
      {"data": {"values": [{"t": "p = NS; R = - 0.014"}]}, "mark": "text",
       "encoding": {"text": {"field": "t"},
        "x": {"datum": 9.6, "type": "quantitative", "title": null, "axis": {"values": [20, 40, 60, 80]}},
        "y": {"datum": 12.85, "type": "quantitative",
              "axis": {"values": [0, 2.5, 5, 7.5, 10, 12.5], "labelExpr": "datum.value < 1 ? replace(format(datum.value, '.2f'), '0.', ',') : replace(format(datum.value, '.2f'), '.', ',')",
                       "title": "apoB100", "titleX": -26, "titleY": 73, "titleAlign": "left", "titleBaseline": "bottom", "titleAngle": -90}}}}
     ]},
    {"width": 165, "height": 123,
     "layer": [
      {"data": {"name": "J"}, "mark": "point",
       "encoding": {
        "x": {"field": "a", "type": "quantitative", "title": null, "scale": {"domain": [5.41, 83.06], "nice": false}, "axis": {"values": [20, 40, 60, 80]}},
        "y": {"field": "v", "type": "quantitative", "scale": {"domain": [-0.64, 10.64], "nice": false},
              "axis": {"values": [0, 2, 4, 6, 8, 10], "labelExpr": "datum.value < 1 ? replace(format(datum.value, '.1f'), '0.', ',') : replace(format(datum.value, '.1f'), '.', ',')",
                       "title": "apoB100", "titleX": -15, "titleY": 73, "titleAlign": "left", "titleBaseline": "bottom", "titleAngle": -90}}}},
      {"data": {"values": [{"a": 5.41, "v": 2.14}, {"a": 83.06, "v": 3.7}]}, "mark": "line",
       "encoding": {
        "x": {"field": "a", "type": "quantitative", "title": null, "axis": {"values": [20, 40, 60, 80]}},
        "y": {"field": "v", "type": "quantitative",
              "axis": {"values": [0, 2, 4, 6, 8, 10], "labelExpr": "datum.value < 1 ? replace(format(datum.value, '.1f'), '0.', ',') : replace(format(datum.value, '.1f'), '.', ',')",
                       "title": "apoB100", "titleX": -15, "titleY": 73, "titleAlign": "left", "titleBaseline": "bottom", "titleAngle": -90}}}},
      {"data": {"values": [{"t": "p =0.003; R = 0.171"}]}, "mark": "text",
       "encoding": {"text": {"field": "t"},
        "x": {"datum": 11.06, "type": "quantitative", "title": null, "axis": {"values": [20, 40, 60, 80]}},
        "y": {"datum": 9.27, "type": "quantitative",
              "axis": {"values": [0, 2, 4, 6, 8, 10], "labelExpr": "datum.value < 1 ? replace(format(datum.value, '.1f'), '0.', ',') : replace(format(datum.value, '.1f'), '.', ',')",
                       "title": "apoB100", "titleX": -15, "titleY": 73, "titleAlign": "left", "titleBaseline": "bottom", "titleAngle": -90}}}}
     ]},
    {"width": 167, "height": 123,
     "layer": [
      {"data": {"name": "K"}, "mark": "point",
       "encoding": {
        "x": {"field": "a", "type": "quantitative", "title": null, "scale": {"domain": [6.19, 85.7], "nice": false}, "axis": {"values": [20, 40, 60, 80]}},
        "y": {"field": "v", "type": "quantitative", "scale": {"domain": [-6.4, 105.5], "nice": false},
              "axis": {"values": [0, 20, 40, 60, 80, 100], "format": "d",
                       "title": "apoB100", "titleX": -21, "titleY": 73, "titleAlign": "left", "titleBaseline": "bottom", "titleAngle": -90}}}},
      {"data": {"values": [{"a": 6.19, "v": 40}, {"a": 85.7, "v": 70}]}, "mark": "line",
       "encoding": {
        "x": {"field": "a", "type": "quantitative", "title": null, "axis": {"values": [20, 40, 60, 80]}},
        "y": {"field": "v", "type": "quantitative",
              "axis": {"values": [0, 20, 40, 60, 80, 100], "format": "d",
                       "title": "apoB100", "titleX": -21, "titleY": 73, "titleAlign": "left", "titleBaseline": "bottom", "titleAngle": -90}}}},
      {"data": {"values": [{"t": "p < 0.0001; R = 0.381"}]}, "mark": "text",
       "encoding": {"text": {"field": "t"},
        "x": {"datum": 9.5, "type": "quantitative", "title": null, "axis": {"values": [20, 40, 60, 80]}},
        "y": {"datum": 91.8, "type": "quantitative",
              "axis": {"values": [0, 20, 40, 60, 80, 100], "format": "d",
                       "title": "apoB100", "titleX": -21, "titleY": 73, "titleAlign": "left", "titleBaseline": "bottom", "titleAngle": -90}}}}
     ]},
    {"width": 152, "height": 123,
     "layer": [
      {"data": {"name": "L"}, "mark": "point",
       "encoding": {
        "x": {"field": "a", "type": "quantitative", "title": null, "scale": {"domain": [7.6, 80.6], "nice": false}, "axis": {"values": [20, 40, 60, 80]}},
        "y": {"field": "v", "type": "quantitative", "scale": {"domain": [50.6, 187.2], "nice": false},
              "axis": {"values": [75, 100, 125, 150, 175], "format": "d",
                       "title": "apoA1", "titleX": -22, "titleY": 73, "titleAlign": "left", "titleBaseline": "bottom", "titleAngle": -90}}}},
      {"data": {"values": [{"a": 7.6, "v": 107.2}, {"a": 80.6, "v": 120.2}]}, "mark": "line",
       "encoding": {
        "x": {"field": "a", "type": "quantitative", "title": null, "axis": {"values": [20, 40, 60, 80]}},
        "y": {"field": "v", "type": "quantitative",
              "axis": {"values": [75, 100, 125, 150, 175], "format": "d",
                       "title": "apoA1", "titleX": -22, "titleY": 73, "titleAlign": "left", "titleBaseline": "bottom", "titleAngle": -90}}}},
      {"data": {"values": [{"t": "p = 0.001; R =0.196"}]}, "mark": "text",
       "encoding": {"text": {"field": "t"},
        "x": {"datum": 11.35, "type": "quantitative", "title": null, "axis": {"values": [20, 40, 60, 80]}},
        "y": {"datum": 170.6, "type": "quantitative",
              "axis": {"values": [75, 100, 125, 150, 175], "format": "d",
                       "title": "apoA1", "titleX": -22, "titleY": 73, "titleAlign": "left", "titleBaseline": "bottom", "titleAngle": -90}}}}
     ]}
  ],
  "config": {
    "font": "Liberation Sans",
    "view": {"stroke": "#a8a8a8", "strokeWidth": 1},
    "axis": {"domain": false, "grid": false, "labelOverlap": false, "labelFont": "Liberation Sans", "labelFontSize": 10, "labelColor": "#333333", "tickColor": "#777777", "titleFont": "Liberation Sans", "titleFontSize": 15, "titleFontWeight": "normal", "titleColor": "#222222"},
    "axisX": {"ticks": false, "labelPadding": 8},
    "axisY": {"tickSize": 5, "labelPadding": 2},
    "title": {"font": "Liberation Sans", "fontWeight": "normal", "color": "#222222"},
    "point": {"filled": false, "size": 10, "strokeWidth": 1, "color": "#555555", "opacity": 0.8},
    "line": {"color": "#8a8a8a", "strokeWidth": 1},
    "text": {"font": "Liberation Sans", "fontSize": 14, "align": "left", "baseline": "alphabetic", "color": "#222222"}
  }
}
